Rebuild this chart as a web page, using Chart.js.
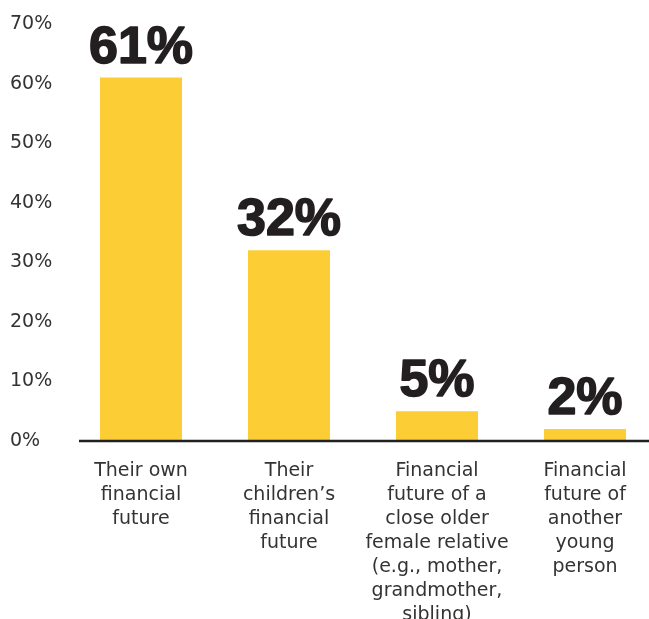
<!DOCTYPE html>
<html>
<head>
<meta charset="utf-8">
<script src="https://cdn.jsdelivr.net/npm/chart.js@4/dist/chart.umd.min.js"></script>
<style>
  html, body { margin: 0; padding: 0; background: #fff; overflow: hidden; }
  #wrap { width: 660px; height: 619px; }
</style>
</head>
<body>
<div id="wrap"><canvas id="chart" width="660" height="619"></canvas></div>
<script>
// Share of respondents worried about each financial future
const categories = [
  ['Their own', 'financial', 'future'],
  ['Their', 'children\u2019s', 'financial', 'future'],
  ['Financial', 'future of a', 'close older', 'female relative', '(e.g., mother,', 'grandmother,', 'sibling)'],
  ['Financial', 'future of', 'another', 'young', 'person']
];
const values = [61, 32, 5, 2];
const yTicks = [0, 10, 20, 30, 40, 50, 60, 70];

const COLORS = {
  bar: '#fdcd35',
  ink: '#231f20',
  text: '#333333'
};

// big bold value above each bar
const valueLabels = {
  id: 'valueLabels',
  afterDatasetsDraw(chart) {
    const { ctx } = chart;
    const meta = chart.getDatasetMeta(0);
    ctx.save();
    ctx.font = 'bold 52px "Liberation Sans", Arial, sans-serif';
    ctx.fillStyle = COLORS.ink;
    ctx.strokeStyle = COLORS.ink;
    ctx.lineWidth = 1.6;
    ctx.lineJoin = 'round';
    ctx.textAlign = 'center';
    ctx.textBaseline = 'alphabetic';
    meta.data.forEach((bar, i) => {
      const txt = values[i] + '%';
      ctx.fillText(txt, bar.x, bar.y - 15);
      ctx.strokeText(txt, bar.x, bar.y - 15);
    });
    ctx.restore();
  }
};

// dark baseline under the bars
const baseline = {
  id: 'baseline',
  afterDatasetsDraw(chart) {
    const { ctx } = chart;
    const y = chart.scales.y.getPixelForValue(0);
    ctx.save();
    ctx.strokeStyle = COLORS.ink;
    ctx.lineWidth = 2.5;
    ctx.beginPath();
    ctx.moveTo(79, y);
    ctx.lineTo(649, y);
    ctx.stroke();
    ctx.restore();
  }
};

new Chart(document.getElementById('chart'), {
  type: 'bar',
  data: {
    labels: categories,
    datasets: [{
      data: values,
      backgroundColor: COLORS.bar,
      borderWidth: 0,
      categoryPercentage: 1,
      barPercentage: 82 / 148
    }]
  },
  options: {
    responsive: false,
    animation: false,
    layout: { padding: { left: 10, top: 24, right: 1, bottom: 0 } },
    plugins: { legend: { display: false }, tooltip: { enabled: false } },
    scales: {
      x: {
        grid: { display: false },
        border: { display: false },
        ticks: {
          color: COLORS.text,
          padding: 10,
          maxRotation: 0,
          autoSkip: false,
          font: { family: '"DejaVu Sans", sans-serif', size: 19, lineHeight: 24 / 19 }
        },
        afterFit: s => { s.height = 178; }
      },
      y: {
        min: 0,
        max: 70,
        afterBuildTicks: s => { s.ticks = yTicks.map(v => ({ value: v })); },
        grid: { display: false },
        border: { display: false },
        ticks: {
          color: COLORS.text,
          crossAlign: 'far',
          callback: v => v + '%',
          font: { family: '"DejaVu Sans", sans-serif', size: 19 }
        },
        afterFit: s => { s.width = 57; }
      }
    }
  },
  plugins: [valueLabels, baseline]
});
</script>
</body>
</html>
